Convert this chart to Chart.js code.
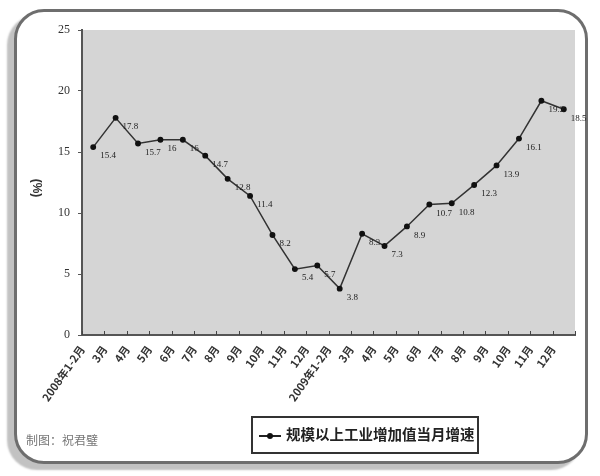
<!DOCTYPE html>
<html><head><meta charset="utf-8">
<script src="https://cdn.jsdelivr.net/npm/chart.js@4.4.1/dist/chart.umd.min.js"></script>
<style>
html,body{margin:0;padding:0;background:#fff;}
#wrap{position:relative;width:600px;height:476px;overflow:hidden;}
#frame{position:absolute;left:14px;top:9px;width:568px;height:449px;border:3px solid #6e6e6e;border-radius:30px;box-shadow:-7px 6px 2px #c2c2c2;background:#fff;}
#c{position:absolute;left:0;top:0;}
#legend{position:absolute;left:251px;top:416px;width:224px;height:34px;border:2px solid #333;background:#fff;font-family:"Noto Sans CJK SC";font-size:14.5px;color:#222;line-height:34px;white-space:nowrap;}
#legend .ln{position:absolute;left:6px;top:17px;width:22px;height:2px;background:#222;}
#legend .dt{position:absolute;left:14px;top:15px;width:6px;height:6px;border-radius:50%;background:#111;}
#legend .tx{position:absolute;left:33px;top:-1px;font-weight:bold;}
#credit{position:absolute;left:26px;top:431px;font-family:"Noto Sans CJK SC";font-size:12px;color:#777;}
</style></head>
<body><div id="wrap">
<div id="frame"></div>
<canvas id="c" width="600" height="476"></canvas>
<div id="legend"><span class="ln"></span><span class="dt"></span><span class="tx">规模以上工业增加值当月增速</span></div>
<div id="credit">制图：祝君璧</div>
</div>
<script>
const categories = ["2008年1-2月","3月","4月","5月","6月","7月","8月","9月","10月","11月","12月",
                    "2009年1-2月","3月","4月","5月","6月","7月","8月","9月","10月","11月","12月"];
const growth = [15.4,17.8,15.7,16,16,14.7,12.8,11.4,8.2,5.4,5.7,3.8,8.3,7.3,8.9,10.7,10.8,12.3,13.9,16.1,19.2,18.5];
const yTicks = [0,5,10,15,20,25];
const seriesName = "规模以上工业增加值当月增速";
const yTitle = "(%)";

const bgPlugin = {
  id:'bg',
  beforeDraw(chart){
    const {ctx, chartArea:a} = chart;
    ctx.save();
    ctx.fillStyle = '#d5d5d5';
    ctx.fillRect(a.left, a.top, a.right-a.left, a.bottom-a.top);
    ctx.restore();
  },
  afterDatasetsDraw(chart){
    const {ctx, chartArea:a, scales} = chart;
    ctx.save();
    ctx.strokeStyle = '#444'; ctx.lineWidth = 1;
    const xs = scales.x;
    for (let i=0;i<=categories.length;i++){
      const x = Math.round(xs.left + (xs.right-xs.left)*i/categories.length)+0.5;
      ctx.beginPath(); ctx.moveTo(x, a.bottom); ctx.lineTo(x, a.bottom-4); ctx.stroke();
    }
    const meta = chart.getDatasetMeta(0);
    ctx.fillStyle = '#222';
    ctx.font = '9px "Liberation Serif"';
    ctx.textBaseline = 'middle';
    meta.data.forEach((p,i)=>{
      ctx.fillText(String(growth[i]), p.x+7, p.y+9);
    });
    ctx.translate(36, 188);
    ctx.rotate(Math.PI/2);
    ctx.font = 'bold 12px "Liberation Sans"';
    ctx.fillStyle='#333';
    ctx.textAlign='center';
    ctx.fillText(yTitle,0,0);
    ctx.restore();
  }
};

new Chart(document.getElementById('c'), {
  type:'line',
  data:{labels:categories, datasets:[{label:seriesName, data:growth, borderColor:'#333', borderWidth:1.5,
    pointRadius:2.2, pointBackgroundColor:'#111', pointBorderColor:'#111', tension:0}]},
  options:{
    responsive:false, animation:false,
    layout:{padding:{left:0,right:25,top:30,bottom:0}},
    plugins:{legend:{display:false}, tooltip:{enabled:false}},
    scales:{
      x:{offset:true,
         grid:{display:false, drawTicks:false},
         border:{display:true,color:'#555',width:2},
         ticks:{minRotation:55,maxRotation:55,autoSkip:false,padding:8,labelOffset:-11,color:'#333',font:{family:'"Noto Sans CJK SC"',size:11,weight:'bold'}},
         afterFit(s){s.height = 141;}
      },
      y:{min:0,max:25,
         afterBuildTicks(s){s.ticks = yTicks.map(v=>({value:v}));},
         grid:{drawOnChartArea:false, drawTicks:true, tickLength:4, color:'#555'},
         border:{display:true,color:'#555',width:2},
         ticks:{padding:8,color:'#333',font:{family:'"Liberation Serif"',size:12}},
         afterFit(s){s.width = 82;}
      }
    }
  },
  plugins:[bgPlugin]
});
</script>
</body></html>
